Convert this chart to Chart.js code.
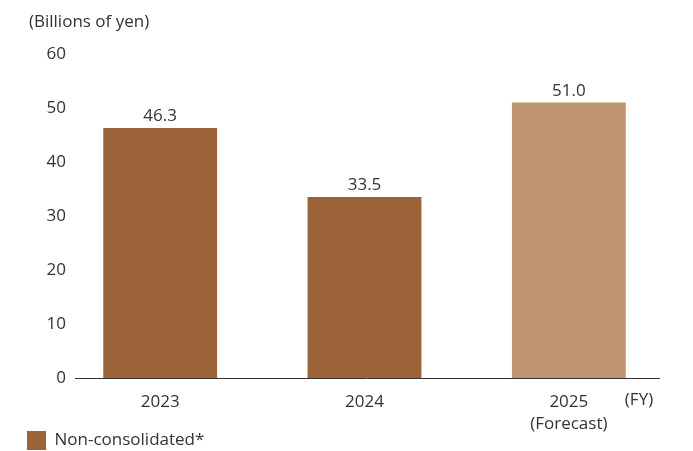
<!DOCTYPE html>
<html>
<head>
<meta charset="utf-8">
<script src="https://cdn.jsdelivr.net/npm/chart.js@4"></script>
<style>
  html, body { margin: 0; padding: 0; background: #fff; }
  #wrap { width: 693px; height: 451px; }
</style>
</head>
<body>
<div id="wrap"><canvas id="chart"></canvas></div>
<script>
// Chart data
const years = [["2023"], ["2024"], ["2025", "(Forecast)"]];
const profit = [46.3, 33.5, 51.0];
const valueLabels = ["46.3", "33.5", "51.0"];
const yTicks = [0, 10, 20, 30, 40, 50, 60];

const darkBrown = "#9c6339";
const lightBrown = "#bf9571";
const textColor = "#333333";
const font = "'Open Sans', 'Noto Sans', sans-serif";

// extra texts, value labels and baseline
const extras = {
  id: "extras",
  afterDatasetsDraw(chart) {
    const ctx = chart.ctx;
    const y = chart.scales.y;
    ctx.save();
    // baseline
    const base = Math.round(y.getPixelForValue(0)) + 0.5;
    ctx.strokeStyle = textColor;
    ctx.lineWidth = 1;
    ctx.beginPath();
    ctx.moveTo(75, base);
    ctx.lineTo(660, base);
    ctx.stroke();

    ctx.fillStyle = textColor;
    ctx.font = "17px " + font;
    // value labels
    chart.getDatasetMeta(0).data.forEach((bar, i) => {
      ctx.textAlign = "center";
      ctx.textBaseline = "bottom";
      ctx.fillText(valueLabels[i], bar.x, bar.y - 3);
    });
    // unit
    ctx.textAlign = "left";
    ctx.textBaseline = "middle";
    ctx.fillText("(Billions of yen)", 29, 22);
    // FY
    ctx.textAlign = "center";
    ctx.fillText("(FY)", 639, base + 22);
    ctx.restore();
  }
};

// labels sit a bit outside their axis box, so don't clip them
function noClip(scale) { scale._computeLabelArea = () => null; }

new Chart(document.getElementById("chart"), {
  type: "bar",
  data: {
    labels: years,
    datasets: [{
      label: "Non-consolidated*",
      data: profit,
      backgroundColor: [darkBrown, darkBrown, lightBrown],
      barPercentage: 0.557,
      categoryPercentage: 1
    }]
  },
  options: {
    responsive: true,
    maintainAspectRatio: false,
    animation: false,
    layout: { padding: { top: 54, right: 22, left: 26, bottom: -9 } },
    scales: {
      x: {
        grid: { display: false, drawTicks: false },
        border: { display: false },
        afterFit(scale) { scale.height = 52; noClip(scale); },
        ticks: {
          color: textColor,
          padding: 13,
          font: { family: font, size: 17, lineHeight: 1.3 }
        }
      },
      y: {
        min: 0,
        max: 60,
        grid: { display: false, drawTicks: false },
        border: { display: false },
        afterFit(scale) { scale.width = 32; noClip(scale); },
        afterBuildTicks(scale) { scale.ticks = yTicks.map(v => ({ value: v })); },
        ticks: {
          color: textColor,
          padding: -8,
          font: { family: font, size: 17 }
        }
      }
    },
    plugins: {
      tooltip: { enabled: false },
      legend: {
        position: "bottom",
        align: "start",
        labels: {
          boxWidth: 19,
          boxHeight: 19,
          padding: 1,
          color: textColor,
          font: { family: font, size: 17 },
          generateLabels: () => [{
            text: "Non-consolidated*",
            fillStyle: darkBrown,
            strokeStyle: darkBrown,
            lineWidth: 0,
            fontColor: textColor,
            datasetIndex: 0
          }]
        }
      }
    }
  },
  plugins: [extras]
});
</script>
</body>
</html>
